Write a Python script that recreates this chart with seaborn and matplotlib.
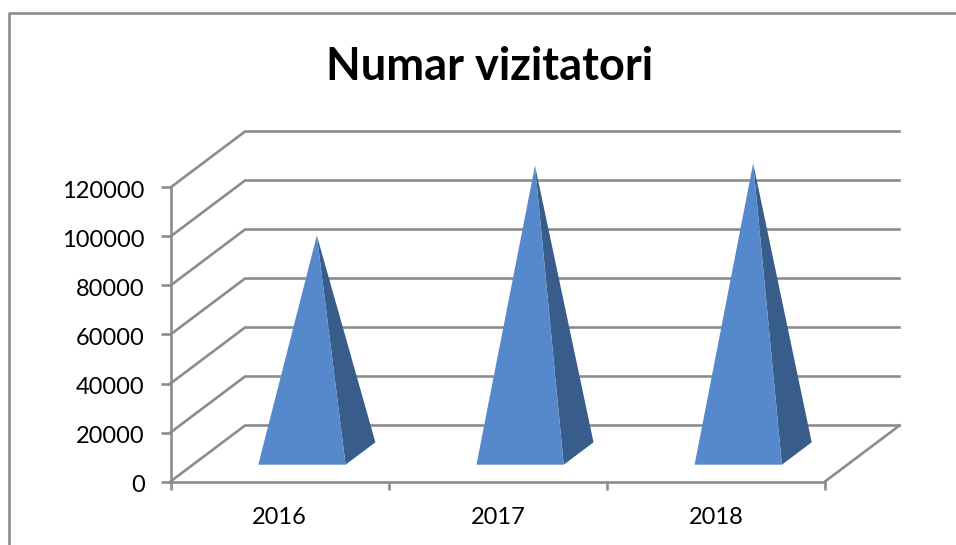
import pandas as pd
import matplotlib
matplotlib.use('Agg')
import matplotlib.pyplot as plt
from matplotlib.lines import Line2D
from matplotlib.ticker import MultipleLocator, FixedLocator
from matplotlib.transforms import ScaledTranslation
import seaborn as sns

# --- DATA ---
years = ['2016', '2017', '2018']
visitors = [89000, 117500, 118500]
y_ticks = [0, 20000, 40000, 60000, 80000, 100000, 120000]
title = 'Numar vizitatori'

# --- STYLE ---
GRID = '#8c8c8c'
FRONT = '#5689cb'
SIDE = '#385d8a'
W, H = 956, 545

sns.set_theme(style='white')
plt.rcParams['font.family'] = ['Lato', 'DejaVu Sans']

fig = plt.figure(figsize=(W / 100, H / 100), dpi=100)
ax = fig.add_axes([170.5 / W, (H - 481.5) / H, 654.5 / W, 294 / H])

df = pd.DataFrame({'year': years, 'visitors': visitors})
sns.barplot(data=df, x='year', y='visitors', order=years, width=0.4,
            color=FRONT, ax=ax)
ax.set_xlim(-0.5, 2.5)
ax.set_ylim(0, 120000)

# oblique depth of the fake 3d box, in data units
DX = 74.5 / 654.5 * 3
DY = 56 / 294 * 120000
x0, x1 = ax.get_xlim()


def shift(x, y, depth):
    return x + DX * depth, y + DY * depth


# walls and floor
line = dict(color=GRID, lw=1.9, clip_on=False, zorder=1, solid_capstyle='projecting')
for v in y_ticks:
    bx, by = shift(x0, v, 1)
    ex, ey = shift(x1, v, 1)
    ax.plot([x0, bx, ex], [v, by, ey], **line)
fx, fy = shift(x1, 0, 1)
ax.plot([x1, fx], [0, fy], **line)

# the pyramids are built from the bars seaborn laid out
for bar in list(ax.patches):
    left, width, top = bar.get_x(), bar.get_width(), bar.get_height()
    bar.set_visible(False)
    right = left + width
    fl = shift(left, 0, 0.3)
    fr = shift(right, 0, 0.3)
    br = shift(right, 0, 0.7)
    apex = shift(left + width / 2, top, 0.5)
    ax.fill(*zip(fr, br, apex), color=SIDE, lw=0, clip_on=False, zorder=3)
    ax.fill(*zip(fl, fr, apex), color=FRONT, lw=0, clip_on=False, zorder=4)

# axes
sns.despine(ax=ax)
for side in ['left', 'bottom']:
    ax.spines[side].set_color(GRID)
    ax.spines[side].set_linewidth(1.9)
ax.set_xlabel('')
ax.set_ylabel('')
ax.yaxis.set_major_locator(FixedLocator(y_ticks))
ax.tick_params(axis='y', length=7, width=1.9, color=GRID, labelsize=17,
               labelcolor='black', pad=11.5, left=True)
ax.tick_params(axis='x', which='major', length=0, labelsize=17,
               labelcolor='black', pad=18)
ax.xaxis.set_minor_locator(MultipleLocator(1, offset=0.5))
ax.tick_params(axis='x', which='minor', length=6, width=1.9, color=GRID, bottom=True)

# y labels sit slightly under their ticks
nudge = ScaledTranslation(0, -2 / 100, fig.dpi_scale_trans)
for lab in ax.get_yticklabels():
    lab.set_transform(lab.get_transform() + nudge)

fig.text(489.5 / W, 1 - 67 / H, title, ha='center', va='center',
         fontsize=32.5, fontweight='bold', color='black')

# chart frame, open to the right and bottom
fig.add_artist(Line2D([9 / W, 9 / W, 1], [0, 1 - 13 / H, 1 - 13 / H],
                      color='#8c8c8c', lw=1.9, transform=fig.transFigure))

fig.savefig('out.png', dpi=100)
